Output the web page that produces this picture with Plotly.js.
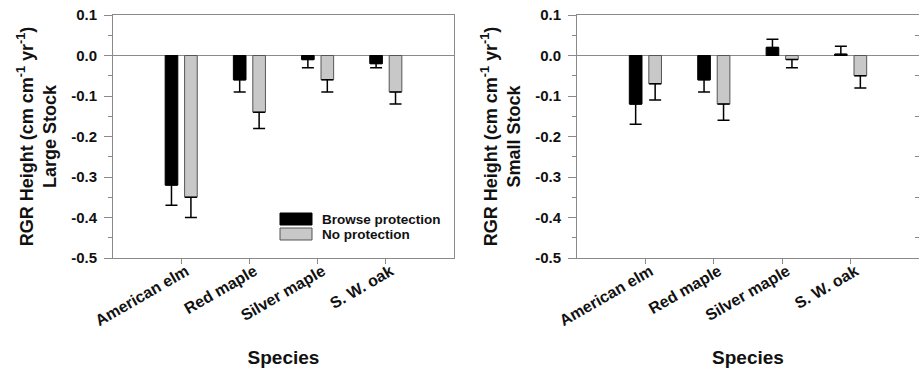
<!DOCTYPE html>
<html>
<head>
<meta charset="utf-8">
<script src="https://cdn.plot.ly/plotly-3.0.1.min.js"></script>
<style>html,body{margin:0;padding:0;background:#fff;}#chart{width:919px;height:368px;}</style>
</head>
<body>
<div id="chart"></div>
<script>
// ---- data ----
const species = ['American elm', 'Red maple', 'Silver maple', 'S. W. oak'];
const seriesNames = ['Browse protection', 'No protection'];
const largeBrowse    = [-0.32, -0.06, -0.01, -0.02];
const largeBrowseErr = [0.05, 0.03, 0.02, 0.01];
const largeNone      = [-0.35, -0.14, -0.06, -0.09];
const largeNoneErr   = [0.05, 0.04, 0.03, 0.03];
const smallBrowse    = [-0.12, -0.06, 0.02, 0.003];
const smallBrowseErr = [0.05, 0.03, 0.02, 0.02];
const smallNone      = [-0.07, -0.12, -0.01, -0.05];
const smallNoneErr   = [0.04, 0.04, 0.02, 0.03];
const yTickVals = [0.1, 0.0, -0.1, -0.2, -0.3, -0.4, -0.5];
const yTickText = ['0.1', '0.0', '-0.1', '-0.2', '-0.3', '-0.4', '-0.5'];
const yMinorVals = [0.05, -0.05, -0.15, -0.25, -0.35, -0.45];

// ---- styles ----
const FONT = 'Liberation Sans, Arial, sans-serif';
const TXT = '#111';
const AX = '#8a8a8a';
const colors = ['#000000', '#c8c8c8'];
const lineColors = ['#000000', '#555555'];

function oneSided(vals, errs) {
  return {
    type: 'data', symmetric: false,
    array: vals.map((v, i) => v >= 0 ? errs[i] : 0),
    arrayminus: vals.map((v, i) => v < 0 ? errs[i] : 0),
    color: '#000', thickness: 1.5, width: 6
  };
}
function barTrace(vals, errs, k, xa, ya) {
  return {
    type: 'bar', x: species, y: vals, name: seriesNames[k],
    xaxis: xa, yaxis: ya, showlegend: false,
    marker: {color: colors[k], line: {color: lineColors[k], width: 1}},
    error_y: oneSided(vals, errs), hoverinfo: 'x+y'
  };
}

const traces = [
  barTrace(largeBrowse, largeBrowseErr, 0, 'x', 'y'),
  barTrace(largeNone, largeNoneErr, 1, 'x', 'y'),
  barTrace(smallBrowse, smallBrowseErr, 0, 'x2', 'y2'),
  barTrace(smallNone, smallNoneErr, 1, 'x2', 'y2'),
  {type: 'scatter', x: [], y: [], xaxis: 'x2', yaxis: 'y3', showlegend: false, hoverinfo: 'skip'}
];

const yTitle = (stock) => ({
  text: 'RGR Height (cm cm<sup>-1</sup> yr<sup>-1</sup>)<br>' + stock,
  font: {family: FONT, size: 18, color: TXT, weight: 'bold'},
  standoff: 9
});

function xAxis(domain, anchor) {
  return {
    domain: domain, anchor: anchor, type: 'category',
    range: [-1, 4], autorange: false,
    showline: true, linecolor: AX, linewidth: 1, mirror: true,
    ticks: 'outside', ticklen: 5, tickcolor: AX, tickwidth: 1,
    tickangle: -30, ticklabelstandoff: -8, ticklabelshift: 5, showgrid: false, zeroline: false,
    tickfont: {family: FONT, size: 16, color: TXT, weight: 'bold'},
    title: {text: 'Species', font: {family: FONT, size: 19, color: TXT, weight: 'bold'}, standoff: 24}
  };
}
function yAxis(anchor, stock, mirror) {
  return {
    anchor: anchor, domain: [0, 1], range: [-0.5, 0.1], autorange: false,
    showline: true, linecolor: AX, linewidth: 1, mirror: mirror,
    ticks: 'outside', ticklen: 8, tickcolor: AX, tickwidth: 1,
    tickvals: yTickVals, ticktext: yTickText, ticklabelstandoff: 4,
    minor: {tickvals: yMinorVals, ticks: 'outside', ticklen: 4, tickcolor: AX, showgrid: false},
    showgrid: false, zeroline: true, zerolinecolor: AX, zerolinewidth: 1,
    tickfont: {family: FONT, size: 15, color: TXT, weight: 'bold'},
    title: yTitle(stock)
  };
}

const layout = {
  width: 919, height: 368,
  margin: {l: 0, r: 0, t: 15, b: 110},
  paper_bgcolor: '#fff', plot_bgcolor: '#fff',
  barmode: 'group', bargap: 0.43, bargroupgap: 0.35,
  showlegend: false,
  xaxis: xAxis([113 / 919, 454 / 919], 'y'),
  yaxis: yAxis('x', 'Large Stock', true),
  xaxis2: xAxis([577 / 919, 1], 'y2'),
  yaxis2: yAxis('x2', 'Small Stock', false),
  yaxis3: {
    overlaying: 'y2', anchor: 'x2', side: 'right', range: [-0.5, 0.1], autorange: false,
    tickvals: yMinorVals, ticks: 'inside', ticklen: 4, tickcolor: AX,
    showticklabels: false, showline: false, showgrid: false, zeroline: false
  },
  shapes: [
    {type: 'rect', xref: 'paper', yref: 'paper', x0: 280 / 919, x1: 312 / 919, y0: (258 - 225) / 243, y1: (258 - 213) / 243,
     fillcolor: colors[0], line: {color: lineColors[0], width: 1}},
    {type: 'rect', xref: 'paper', yref: 'paper', x0: 280 / 919, x1: 312 / 919, y0: (258 - 240) / 243, y1: (258 - 228) / 243,
     fillcolor: colors[1], line: {color: lineColors[1], width: 1}}
  ],
  annotations: [
    {xref: 'paper', yref: 'paper', x: 320 / 919, y: (258 - 219) / 243, xanchor: 'left', yanchor: 'middle',
     text: seriesNames[0], showarrow: false, font: {family: FONT, size: 13.5, color: TXT, weight: 'bold'}},
    {xref: 'paper', yref: 'paper', x: 320 / 919, y: (258 - 234) / 243, xanchor: 'left', yanchor: 'middle',
     text: seriesNames[1], showarrow: false, font: {family: FONT, size: 13.5, color: TXT, weight: 'bold'}}
  ]
};

Plotly.newPlot('chart', traces, layout, {displayModeBar: false, staticPlot: true});
</script>
</body>
</html>
